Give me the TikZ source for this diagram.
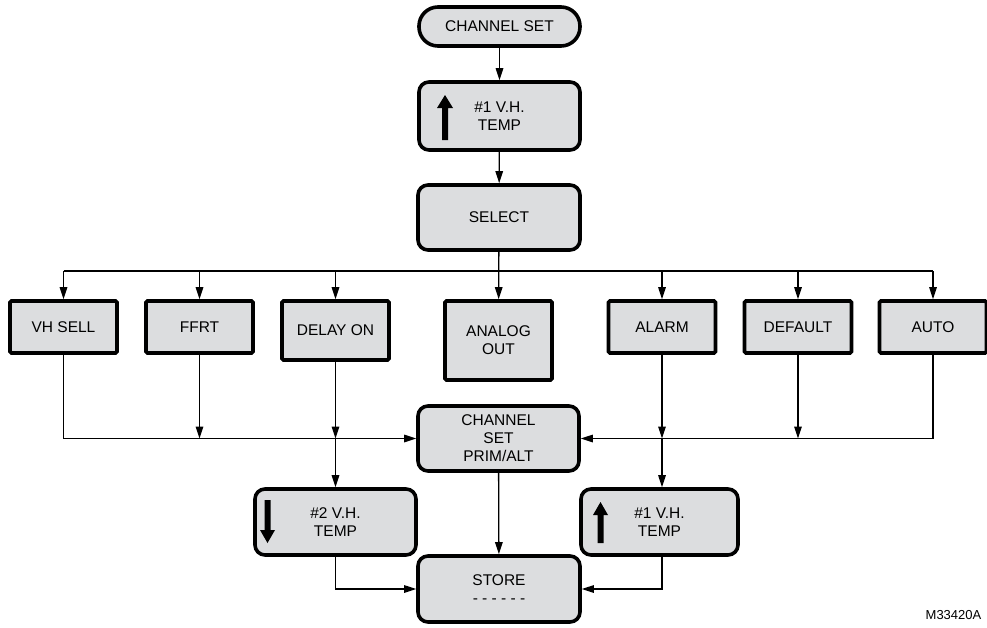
\documentclass[tikz,border=0pt]{standalone}
\usepackage{fontspec}
\setmainfont{Liberation Sans}
\usetikzlibrary{arrows.meta,calc}
\definecolor{boxgray}{RGB}{220,221,223}
\begin{document}
\begin{tikzpicture}[x=1pt,y=-1pt,
  base/.style={draw=black, fill=boxgray, line width=3.6pt, align=center,
    font=\fontsize{15.5}{18}\selectfont, inner sep=0pt},
  rbox/.style={base, rounded corners=10pt},
  sbox/.style={base, rounded corners=1.5pt, minimum width=107pt},
  pill/.style={base, rounded corners=19pt},
  conn/.style={line width=1.3pt},
  arr/.style={conn, -{Triangle[length=12pt,width=7.5pt]}},
]
\useasboundingbox (0,0) rectangle (987,627);

\node[pill, minimum width=161pt, minimum height=39pt] (chset) at (499.5,26.5) {CHANNEL SET};
\node[rbox, minimum width=161pt, minimum height=68pt] (t1) at (499.5,116) {\#1 V.H.\\TEMP};
\node[rbox, minimum width=162pt, minimum height=65pt] (select) at (499,217.5) {SELECT};

\node[sbox, minimum height=52pt] (vhsell) at (63.5,327) {VH SELL};
\node[sbox, minimum height=52pt] (ffrt) at (199.5,327) {FFRT};
\node[sbox, minimum height=59pt] (delay) at (335.5,330.5) {DELAY ON};
\node[sbox, minimum height=79pt] (analog) at (498.5,340.5) {ANALOG\\OUT};
\node[sbox, minimum height=52pt] (alarm) at (662,327) {ALARM};
\node[sbox, minimum height=52pt] (default) at (798,327) {DEFAULT};
\node[sbox, minimum height=52pt] (auto) at (933,327) {AUTO};

\node[rbox, minimum width=161pt, minimum height=65pt] (prim) at (498.5,438.5) {CHANNEL\\SET\\PRIM/ALT};
\node[rbox, minimum width=161pt, minimum height=66pt] (t2) at (335.5,522) {\#2 V.H.\\TEMP};
\node[rbox, minimum width=157pt, minimum height=66pt] (t1b) at (659.5,522) {\#1 V.H.\\TEMP};
\node[rbox, minimum width=162pt, minimum height=66pt] (store) at (499,589) {STORE\\- - - - - -};
\node[font=\fontsize{13}{15}\selectfont, inner sep=0pt] (code) at (953.5,615) {M33420A};

% arrow glyphs inside boxes
\fill[shift={(t1.center)}] (-57.5,24) -- (-57.5,-8) -- (-62.5,-8) -- (-54.5,-21) -- (-46.5,-8) -- (-51.5,-8) -- (-51.5,24) -- cycle;
\fill[shift={(t2.center)}] (-71,-22) -- (-71,8) -- (-75.5,8) -- (-68,21) -- (-60.5,8) -- (-65,8) -- (-65,-22) -- cycle;
\fill[shift={(t1b.center)}] (-62,21) -- (-62,-7) -- (-66.5,-7) -- (-59,-20) -- (-51.5,-7) -- (-56,-7) -- (-56,21) -- cycle;

% connectors
\draw[arr] (chset) -- (t1);
\draw[arr] (t1) -- (select);
\coordinate (bus) at (499,271);
\draw[arr] (select) -- (analog);
\draw[conn] (vhsell.north |- bus) -- (auto.north |- bus);
\foreach \n in {vhsell,ffrt,delay,alarm,default,auto}
  \draw[arr] (\n.north |- bus) -- (\n.north);

\draw[arr] (vhsell.south) |- (prim.west);
\draw[arr] (ffrt.south) -- (ffrt.south |- prim.west);
\draw[arr] (delay.south) -- (delay.south |- prim.west);
\draw[arr] (delay.south |- prim.west) -- (delay.south |- t2.north);
\draw[arr] (auto.south) |- (prim.east);
\draw[arr] (default.south) -- (default.south |- prim.east);
\draw[arr] (alarm.south) -- (alarm.south |- prim.east);
\draw[arr] (alarm.south |- prim.east) -- (alarm.south |- t1b.north);
\draw[arr] (prim) -- (store);
\draw[arr] (t2.south) |- (store.west);
\draw[arr] (alarm.south |- t1b.south) |- (store.east);
\end{tikzpicture}
\end{document}
